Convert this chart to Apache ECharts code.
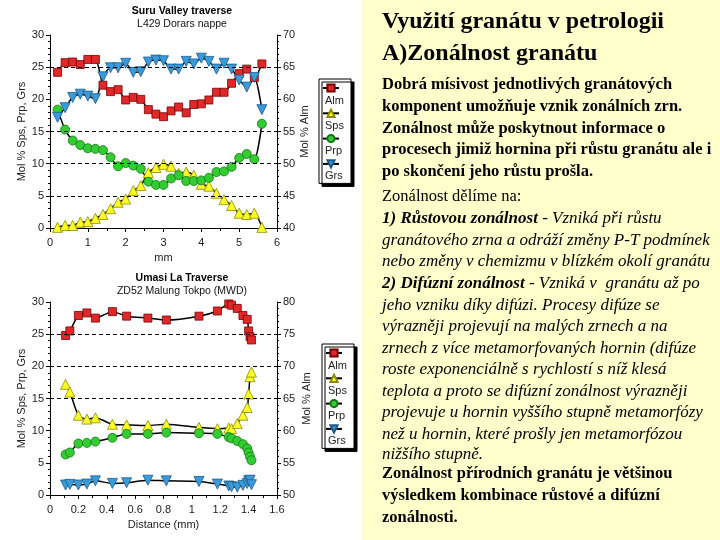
<!DOCTYPE html>
<html><head><meta charset="utf-8">
<script src="https://cdn.jsdelivr.net/npm/echarts@6/dist/echarts.min.js"></script>
<style>html,body{margin:0;padding:0;background:#fff}#c{width:720px;height:540px}</style>
</head><body><div id="c"></div><script>
// ---------- Data: Suru Valley traverse (top) ----------
const topX   = [0.2,0.4,0.6,0.8,1.0,1.2,1.4,1.6,1.8,2.0,2.2,2.4,2.6,2.8,3.0,3.2,3.4,3.6,3.8,4.0,4.2,4.4,4.6,4.8,5.0,5.2,5.4,5.6];
const topAlm = [64.2,65.7,65.8,65.4,66.2,66.2,62.2,61.2,61.5,59.9,60.3,60.0,58.4,57.7,57.3,58.2,58.8,57.9,59.2,59.3,59.9,61.1,61.1,62.5,64.0,64.7,63.4,65.5];
const topSps = [0.1,0.4,0.4,0.9,1.0,1.5,2.1,3.0,4.0,4.5,5.8,6.6,8.6,9.4,9.9,9.6,8.5,8.7,8.2,6.8,6.5,5.4,4.4,3.5,2.3,2.1,2.3,0.1];
const topPrp = [18.4,15.3,13.6,12.9,12.4,12.3,12.1,11.0,9.6,10.1,9.7,9.2,7.2,6.7,6.7,7.7,8.2,7.3,7.3,7.4,7.8,8.7,8.8,9.5,10.9,11.5,10.7,16.2];
const topGrs = [17.2,18.7,20.3,20.8,20.5,20.1,23.5,24.9,24.9,25.6,24.2,24.3,25.8,26.1,26.0,24.7,24.7,25.9,25.5,26.4,25.9,24.7,25.6,24.7,23.0,21.9,23.4,18.4];
// ---------- Data: Umasi La traverse (bottom) ----------
const botX   = [0.11,0.14,0.20,0.26,0.32,0.44,0.54,0.69,0.82,1.05,1.18,1.26,1.28,1.32,1.36,1.39,1.40,1.41,1.42];
const botAlm = [74.8,75.5,77.9,78.3,77.5,78.5,77.8,77.5,77.2,77.8,78.6,79.7,79.5,79.0,77.9,77.3,75.5,74.6,74.1];
const botSps = [17.2,16.0,12.4,11.8,12.0,11.0,10.9,10.8,11.0,10.5,10.3,10.4,10.3,11.1,12.4,13.6,15.7,18.4,19.1];
const botPrp = [6.3,6.6,8.0,8.1,8.3,8.9,9.5,9.5,9.7,9.6,9.5,9.0,8.8,8.4,7.9,7.25,6.6,5.95,5.4];
const botGrs = [1.55,1.65,1.55,1.7,2.2,1.8,1.9,2.3,2.2,2.1,1.7,1.4,1.3,1.2,1.5,1.8,2.2,2.3,1.6];
// dashed reference lines (left-axis values)
const topDash = [5,10,15,25];
const botDash = [15,20,25];
const names = ['Alm','Sps','Prp','Grs'];
const titles = [['Suru Valley traverse','L429 Dorars nappe'],['Umasi La Traverse','ZD52 Malung Tokpo (MWD)']];
// ---------- Slide text ----------
const headLines = ['Využití granátu v petrologii','A)Zonálnost granátu'];
const boldLines1 = ['Dobrá mísivost jednotlivých granátových','komponent umožňuje vznik zonálních zrn.','Zonálnost může poskytnout informace o','procesech jimiž hornina při růstu granátu ale i','po skončení jeho růstu prošla.'];
const plainLine = 'Zonálnost dělíme na:';
const item1 = [['1) Růstovou zonálnost',' - Vzniká při růstu'],'granátového zrna a odráží změny P-T podmínek','nebo změny v chemizmu v blízkém okolí granátu'];
const item2 = [['2) Difúzní zonálnost',' - Vzniká v  granátu až po'],'jeho vzniku díky difúzi. Procesy difúze se','výrazněji projevují na malých zrnech a na','zrnech z více metamorfovaných hornin (difúze','roste exponenciálně s rychlostí s níž klesá','teplota a proto se difúzní zonálnost výrazněji','projevuje u hornin vyššího stupně metamorfózy','než u hornin, které prošly jen metamorfózou','nižšího stupně.'];
const boldLines2 = ['Zonálnost přírodních granátu je většinou','výsledkem kombinace růstové a difúzní','zonálnosti.'];

const SANS = '"Liberation Sans", Arial, sans-serif';
const SERIF = '"Liberation Serif", "Times New Roman", serif';
const chart = echarts.init(document.getElementById('c'));

const styles = {
  Alm:{symbol:'rect', size:8, color:'#E0282A', border:'#7a0000', rotate:0},
  Sps:{symbol:'triangle', size:10, color:'#FFFF22', border:'#8a8a00', rotate:0},
  Prp:{symbol:'circle', size:9, color:'#33CC33', border:'#117711', rotate:0},
  Grs:{symbol:'triangle', size:10, color:'#3A9BDC', border:'#1d5a88', rotate:180}
};
function mk(name, xs, ys, xi, yi){
  const s = styles[name];
  return {type:'line', name, xAxisIndex:xi, yAxisIndex:yi, data: xs.map((x,i)=>[x,ys[i]]),
    symbol:s.symbol, symbolSize:s.size, symbolRotate:s.rotate, smooth:0.25, z:3,
    lineStyle:{color:'#000', width:1.5}, itemStyle:{color:s.color, borderColor:s.border, borderWidth:0.8},
    emphasis:{disabled:true}, animation:false};
}
function dashSeries(levels, xi, yi){
  return {type:'line', name:'_grid'+xi, xAxisIndex:xi, yAxisIndex:yi, data:[], z:1, silent:true,
    markLine:{symbol:'none', silent:true, animation:false, label:{show:false},
      lineStyle:{color:'#000', width:1, type:[4,3]}, emphasis:{disabled:true},
      data: levels.map(v=>({yAxis:v}))}};
}
const axisLbl = {fontFamily:SANS, fontSize:11, color:'#222'};
function xAx(gi, max, interval, minorSplit, name, gap){
  return {type:'value', gridIndex:gi, min:0, max, interval, name, nameLocation:'middle', nameGap:gap,
    nameTextStyle:{fontFamily:SANS, fontSize:11, color:'#222'},
    axisLine:{show:true, lineStyle:{color:'#000', width:1}},
    axisTick:{show:true, length:4, lineStyle:{color:'#000'}},
    minorTick:{show:true, splitNumber:minorSplit, length:3, lineStyle:{color:'#000'}},
    axisLabel:Object.assign({margin:9}, axisLbl), splitLine:{show:false}};
}
function yAx(gi, min, max, pos, name, gap){
  return {type:'value', gridIndex:gi, min, max, interval:5, position:pos, name, nameLocation:'middle', nameGap:gap,
    nameRotate:90, nameTextStyle:{fontFamily:SANS, fontSize:11, color:'#222'},
    axisLine:{show:true, lineStyle:{color:'#000', width:1}},
    axisTick:{show:true, length:4, lineStyle:{color:'#000'}},
    minorTick:{show:true, splitNumber:5, length:2, lineStyle:{color:'#000'}},
    axisLabel:Object.assign({margin:6}, axisLbl), splitLine:{show:false}};
}
function legend(left, top){
  return {data:names, orient:'vertical', left, top, itemWidth:16, itemHeight:9, itemGap:-24.7,
    padding:[-16, 7, -5.5, 3], backgroundColor:'#fff', borderColor:'#000', borderWidth:1,
    shadowColor:'#000', shadowBlur:0, shadowOffsetX:3, shadowOffsetY:3, selectedMode:false,
    formatter: n => '\n' + n,
    textStyle:{fontFamily:SANS, fontSize:11, color:'#222', lineHeight:25, padding:[0,0,0,-19]}};
}
function title(i, cx, top){
  return {text:titles[i][0], subtext:titles[i][1], left:cx, top, textAlign:'center', padding:0, itemGap:2,
    textStyle:{fontFamily:SANS, fontSize:10.5, fontWeight:'bold', color:'#000'},
    subtextStyle:{fontFamily:SANS, fontSize:10.5, color:'#111'}};
}
// slide text graphics
const g = [{type:'rect', shape:{x:362, y:0, width:358, height:540}, style:{fill:'#FFFFCC'}, z:-10, silent:true}];
const TX = 382;
function addLine(text, y, font, rich){
  g.push({type:'text', x:TX, y, silent:true, style:{text, font, fill:'#000', verticalAlign:'middle', rich}});
}
const fHead = 'bold 24px '+SERIF, fBold = 'bold 16.5px '+SERIF, fPlain = '16.5px '+SERIF, fIt = 'italic 17px '+SERIF, fBI = 'italic bold 17px '+SERIF;
const rich = {b:{font:fBI, fill:'#000'}, i:{font:fIt, fill:'#000'}};
[21.5, 53.5].forEach((y,i)=>addLine(headLines[i], y, fHead));
[85,106.7,128.3,150,171.7].forEach((y,i)=>addLine(boldLines1[i], y, fBold));
addLine(plainLine, 197, fPlain);
function addItem(arr, ys){
  ys.forEach((y,i)=>{
    const l = arr[i];
    if (Array.isArray(l)) addLine('{b|'+l[0]+'}{i|'+l[1]+'}', y, fIt, rich);
    else addLine(l, y, fIt);
  });
}
addItem(item1, [219,240.5,262]);
addItem(item2, [284,305.5,327,348.5,370,391.5,413,434.5,455]);
[474,496,518].forEach((y,i)=>addLine(boldLines2[i], y, fBold));

const option = {
  backgroundColor:'#fff', animation:false,
  title:[title(0,182,6), title(1,182,273)],
  grid:[{left:50, top:35, width:227, height:193}, {left:50, top:302, width:227, height:193}],
  xAxis:[xAx(0,6,1,2,'mm',24), xAx(1,1.6,0.2,2,'Distance (mm)',24)],
  yAxis:[yAx(0,0,30,'left','Mol % Sps, Prp, Grs',16), yAx(0,40,70,'right','Mol % Alm',22),
         yAx(1,0,30,'left','Mol % Sps, Prp, Grs',16), yAx(1,50,80,'right','Mol % Alm',24)],
  legend:[legend(319,79), legend(322,344)],
  series:[dashSeries(topDash,0,0), dashSeries(botDash,1,2),
    mk('Alm',topX,topAlm,0,1), mk('Sps',topX,topSps,0,0), mk('Prp',topX,topPrp,0,0), mk('Grs',topX,topGrs,0,0),
    mk('Alm',botX,botAlm,1,3), mk('Sps',botX,botSps,1,2), mk('Prp',botX,botPrp,1,2), mk('Grs',botX,botGrs,1,2)],
  graphic:g
};
chart.setOption(option);
</script></body></html>
